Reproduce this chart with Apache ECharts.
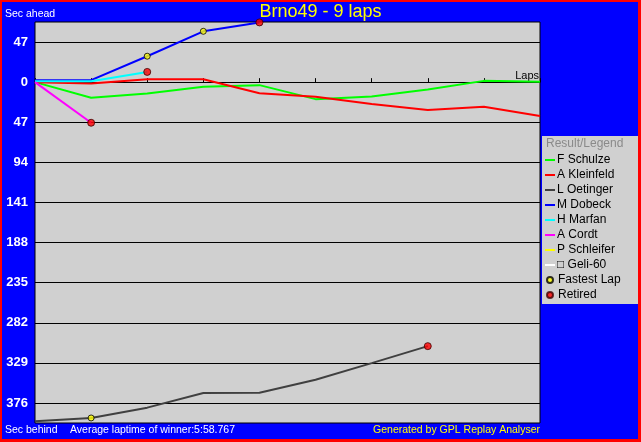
<!DOCTYPE html>
<html>
<head>
<meta charset="utf-8">
<script src="https://cdn.jsdelivr.net/npm/echarts@6/dist/echarts.min.js"></script>
<style>
html,body{margin:0;padding:0;background:#0000ff;}
#chart{width:641px;height:442px;}
</style>
</head>
<body>
<div id="chart"></div>
<script>
// ---- data (seconds behind; negative = ahead) ----
const laps = [0, 1, 2, 3, 4, 5, 6, 7, 8, 9];
const driverNames = ['F Schulze', 'A Kleinfeld', 'L Oetinger', 'M Dobeck', 'H Marfan', 'A Cordt', 'P Schleifer', 'Geli-60'];
const schulze   = [0, 18.3, 13.2, 5.5, 3.5, 19.9, 16.7, 8.6, -1.5, -0.4];
const kleinfeld = [0, 1.5, -3.5, -3.5, 13.0, 17.2, 25.7, 32.7, 28.9, 39.7];
const oetinger  = [397.5, 393.6, 381.5, 364.4, 364.0, 348.8, 329.3, 309.4];
const dobeck    = [-2.3, -2.3, -30.4, -59.6, -70.0];
const marfan    = [-1, -1, -12];
const cordt     = [0, 47.6];
const schleifer = [];
const geli      = [];
const driverValues = [schulze, kleinfeld, oetinger, dobeck, marfan, cordt, schleifer, geli];
const driverColors = ['#00ff00', '#ff0000', '#404040', '#0000ff', '#00ffff', '#ff00ff', '#ffff00', '#ffffff'];
const fastestLaps = [['M Dobeck', 2], ['M Dobeck', 3], ['L Oetinger', 1]];
const retiredDrivers = ['M Dobeck', 'H Marfan', 'A Cordt', 'L Oetinger'];
const gridTicks = [-47, 0, 47, 94, 141, 188, 235, 282, 329, 376];
const yStep = 47;

const valueOf = (name, lap) => driverValues[driverNames.indexOf(name)][lap];

const lineSeries = driverNames.map((name, i) => ({
  name: name,
  type: 'line',
  data: driverValues[i].map((v, k) => [laps[k], v]),
  showSymbol: false,
  symbol: 'none',
  smooth: false,
  z: 3,
  lineStyle: { color: driverColors[i], width: 2 },
  itemStyle: { color: driverColors[i] },
  animation: false
}));

const gridSeries = {
  name: '_grid',
  type: 'line',
  data: [],
  z: 1,
  silent: true,
  markLine: {
    silent: true,
    z: 1,
    symbol: ['none', 'none'],
    label: { show: false },
    lineStyle: { color: '#000000', width: 1, type: 'solid' },
    data: gridTicks.map(v => ({ yAxis: v })),
    animation: false
  }
};

const fastestSeries = {
  name: 'Fastest Lap',
  type: 'scatter',
  z: 5,
  symbol: 'circle',
  symbolSize: 6,
  itemStyle: { color: '#ffff00', borderColor: '#000000', borderWidth: 1 },
  data: fastestLaps.map(([n, lap]) => [lap, valueOf(n, lap)]),
  animation: false
};

const retiredSeries = {
  name: 'Retired',
  type: 'scatter',
  z: 5,
  symbol: 'circle',
  symbolSize: 7,
  itemStyle: { color: '#ff0000', borderColor: '#400000', borderWidth: 1 },
  data: retiredDrivers.map(n => {
    const arr = driverValues[driverNames.indexOf(n)];
    return [laps[arr.length - 1], arr[arr.length - 1]];
  }),
  animation: false
};

const FONT = 'Liberation Sans, Arial, sans-serif';
const small = { fontFamily: FONT, fontSize: 10.5, fontWeight: 'normal' };
const legendFont = { fontFamily: FONT, fontSize: 12, fontWeight: 'normal' };

const chart = echarts.init(document.getElementById('chart'), null, { renderer: 'canvas' });
chart.setOption({
  backgroundColor: '#0000ff',
  animation: false,
  title: [
    { text: 'Brno49 - 9 laps', left: 'center', top: 3, padding: 0,
      textStyle: { color: '#ffff00', fontFamily: FONT, fontSize: 18, fontWeight: 'normal' } },
    { text: 'Sec ahead', left: 5, top: 9, padding: 0, textStyle: Object.assign({ color: '#ffffff' }, small) },
    { text: 'Sec behind', left: 5, top: 425, padding: 0, textStyle: Object.assign({ color: '#ffffff' }, small) },
    { text: 'Average laptime of winner:5:58.767', left: 70, top: 425, padding: 0, textStyle: Object.assign({ color: '#ffffff' }, small) },
    { text: 'Generated by GPL Replay Analyser', right: 101, top: 425, padding: 0, textStyle: Object.assign({ color: '#ffff00' }, small) },
    { text: 'Result/Legend', left: 546, top: 138, padding: 0, textStyle: Object.assign({ color: '#8a8a8a' }, legendFont) }
  ],
  graphic: [
    { type: 'rect', shape: { x: 542, y: 136, width: 96, height: 168 }, style: { fill: '#d0d0d0' }, z: -1 },
    { type: 'rect', shape: { x: 0, y: 0, width: 2, height: 442 }, style: { fill: '#ff0000' }, z: 10 },
    { type: 'rect', shape: { x: 0, y: 0, width: 641, height: 2 }, style: { fill: '#ff0000' }, z: 10 },
    { type: 'rect', shape: { x: 638, y: 0, width: 3, height: 442 }, style: { fill: '#ff0000' }, z: 10 },
    { type: 'rect', shape: { x: 0, y: 439, width: 641, height: 3 }, style: { fill: '#ff0000' }, z: 10 }
  ],
  legend: [
    {
      orient: 'vertical', left: 545, top: 153.5, padding: 0,
      itemWidth: 10, itemHeight: 2, itemGap: 2, icon: 'rect',
      selectedMode: false,
      textStyle: Object.assign({ color: '#000000', lineHeight: 13, padding: [0, 0, 0, -3] }, legendFont),
      formatter: n => (n === 'Geli-60' ? '\u25a1 Geli-60' : n),
      data: driverNames
    },
    {
      orient: 'vertical', left: 546, top: 273.5, padding: 0,
      itemWidth: 6, itemHeight: 6, itemGap: 2, icon: 'circle',
      selectedMode: false,
      textStyle: Object.assign({ color: '#000000', lineHeight: 13 }, legendFont),
      data: ['Fastest Lap', 'Retired']
    }
  ],
  grid: {
    left: 35, right: 101, top: 22, bottom: 19,
    show: true, backgroundColor: '#d0d0d0', borderColor: '#000000', borderWidth: 1,
    containLabel: false
  },
  xAxis: {
    type: 'value', min: 0, max: 9, interval: 1,
    name: 'Laps', nameLocation: 'end', nameGap: -1,
    nameTextStyle: { color: '#000000', fontFamily: FONT, fontSize: 11, align: 'right', verticalAlign: 'bottom', padding: [0, 0, 1, 0] },
    axisLine: { show: true, onZero: true, lineStyle: { color: '#000000', width: 1 } },
    axisTick: { show: true, inside: true, length: 4, lineStyle: { color: '#000000' } },
    axisLabel: { show: false },
    splitLine: { show: false }
  },
  yAxis: {
    type: 'value', inverse: true,
    min: -1.5 * yStep, max: 8.5 * yStep, interval: yStep / 2,
    axisLine: { show: false },
    axisTick: { show: false },
    splitLine: { show: false },
    axisLabel: {
      show: true, margin: 7, color: '#ffffff',
      fontFamily: FONT, fontSize: 13, fontWeight: 'bold',
      formatter: v => (Math.abs(v % yStep) < 1e-6 ? String(Math.abs(v)) : '')
    }
  },
  series: [gridSeries].concat(lineSeries, [fastestSeries, retiredSeries])
});
</script>
</body>
</html>
